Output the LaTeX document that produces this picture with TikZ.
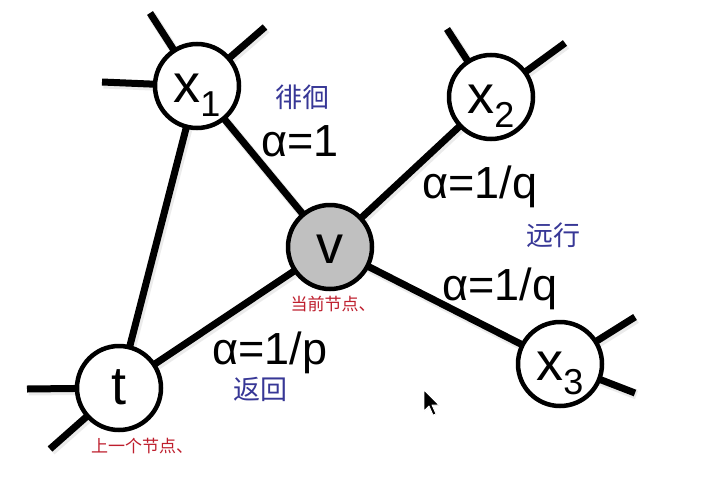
\documentclass[tikz,border=0pt]{standalone}
\usepackage{fontspec}
\setmainfont{Liberation Sans}
\newfontfamily\cjk{Noto Sans CJK SC}
\usetikzlibrary{backgrounds}
\definecolor{hwblue}{RGB}{55,55,150}
\definecolor{hwred}{RGB}{190,30,45}
\definecolor{vgray}{RGB}{192,192,192}
\newcommand\subidx[1]{\raisebox{-14pt}{\fontsize{36}{36}\selectfont #1}}
\begin{document}
\begin{tikzpicture}[x=1pt,y=-1pt,
  vert/.style={circle,draw=black,line width=4.5pt,fill=white,minimum size=84pt,inner sep=0pt,
    text height=32pt,text depth=0pt,font=\fontsize{54}{54}\selectfont},
  edge/.style={line width=7pt},
  eshadow/.style={line width=9pt,draw=black,draw opacity=0.08,transform canvas={shift={(1.5pt,-2pt)}}},
  alab/.style={anchor=base,font=\fontsize{45}{45}\selectfont,inner sep=0pt},
  blab/.style={text=hwblue,font=\cjk\fontsize{27}{27}\selectfont,inner sep=0pt},
  rlab/.style={text=hwred,font=\cjk\fontsize{17}{17}\selectfont,inner sep=0pt}]
\useasboundingbox (0,0) rectangle (720,482);

% nodes
\node[vert] (x1) at (197,86) {x\subidx{1}};
\node[vert] (x2) at (491,97) {x\subidx{2}};
\node[vert,fill=vgray] (v) at (330,247) {v};
\node[vert] (t) at (119,388) {t};
\node[vert] (x3) at (560,364) {x\subidx{3}};

% stub ends
\coordinate (a1) at (150,13);
\coordinate (a2) at (265,27);
\coordinate (a3) at (102,82);
\coordinate (b1) at (447,29);
\coordinate (b2) at (565,43);
\coordinate (c1) at (27,389);
\coordinate (c2) at (50,449);
\coordinate (d1) at (635,317);
\coordinate (d2) at (635,393);

\begin{scope}[on background layer]
  \fill[white] (0,0) rectangle (720,482);
  \foreach \p/\q in {x1/v,x2/v,x3/v,t/v,t/x1,a1/x1,a2/x1,a3/x1,b1/x2,b2/x2,c1/t,c2/t,d1/x3,d2/x3}{
    \draw[eshadow] (\p) -- (\q.center);
  }
  \draw[edge] (x1.center) -- (v.center);
  \draw[edge] (x2.center) -- (v.center);
  \draw[edge] (x3.center) -- (v.center);
  \draw[edge] (t.center) -- (v.center);
  \draw[edge] (t.center) -- (x1.center);
  \draw[edge] (a1) -- (x1.center);
  \draw[edge] (a2) -- (x1.center);
  \draw[edge] (a3) -- (x1.center);
  \draw[edge] (b1) -- (x2.center);
  \draw[edge] (b2) -- (x2.center);
  \draw[edge] (c1) -- (t.center);
  \draw[edge] (c2) -- (t.center);
  \draw[edge] (d1) -- (x3.center);
  \draw[edge] (d2) -- (x3.center);
\end{scope}

% edge labels
\node[alab] (l1) at (300,156) {α=1};
\node[alab] (l2) at (480,198) {α=1/q};
\node[alab] (l3) at (500,300) {α=1/q};
\node[alab] (l4) at (270,364) {α=1/p};

% handwritten notes
\node[blab] (n1) at (302,97) {徘徊};
\node[blab] (n2) at (553,235) {远行};
\node[blab] (n3) at (260,389) {返回};
\node[rlab] (n4) at (333,304) {当前节点、};
\node[rlab] (n5) at (142,446) {上一个节点、};

% mouse pointer
\filldraw[fill=black,draw=white,line width=0.8pt,line join=round]
  (424,390) -- (424,411) -- (429,406) -- (433,415) -- (436,414) -- (432,405) -- (439,405) -- cycle;
\end{tikzpicture}
\end{document}
